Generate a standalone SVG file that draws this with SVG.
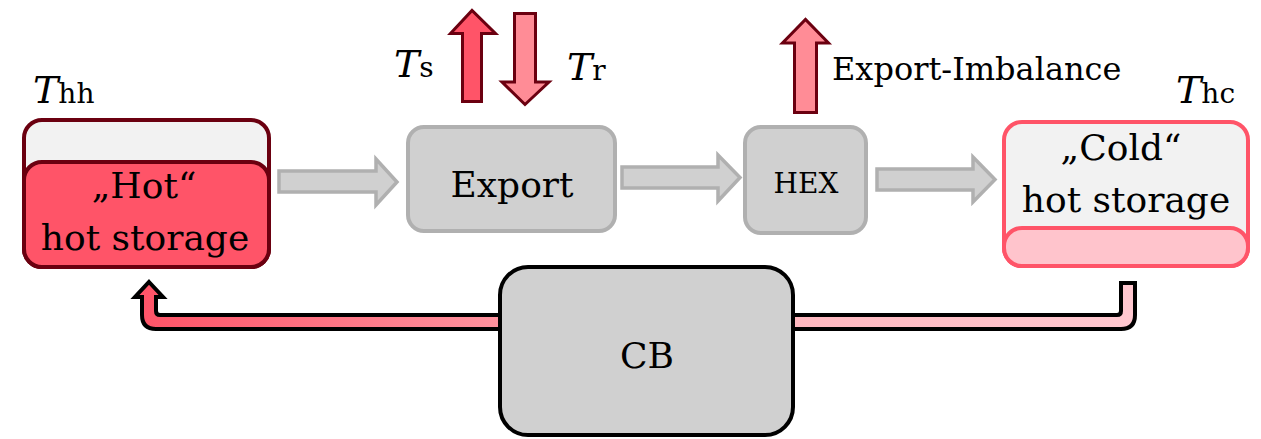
<svg xmlns="http://www.w3.org/2000/svg" width="1261" height="439" viewBox="0 0 1261 439">
<style>
text{font-family:"DejaVu Serif","Liberation Serif",serif;fill:#000}
.lbl{font-size:36px;text-anchor:middle}
.gbox{fill:#d0d0d0;stroke:#b0b0b0;stroke-width:4}
.garrow{fill:#d0d0d0;stroke:#b0b0b0;stroke-width:3.5;stroke-linejoin:miter}
.rarrow{stroke:#6b0010;stroke-width:3;stroke-linejoin:miter}
.it{font-style:italic;font-size:38px}
.sub{font-size:28px}
</style>
<defs>
<linearGradient id="flow" gradientUnits="userSpaceOnUse" x1="142" y1="0" x2="1135" y2="0">
<stop offset="0" stop-color="#ff5468"/>
<stop offset="0.37" stop-color="#ff94a0"/>
<stop offset="0.66" stop-color="#ffb8c0"/>
<stop offset="1" stop-color="#ffc8d0"/>
</linearGradient>
</defs>
<g id="connectors">
<path d="M149,282 L163,297 L156,297 L156,311 Q156,315 160,315 L1117,315 Q1121,315 1121,311 L1121,283 L1135,283 L1135,315 Q1135,329 1121,329 L156,329 Q142,329 142,315 L142,297 L135,297 Z" fill="url(#flow)" stroke="#000" stroke-width="4"/>
<polygon class="garrow" points="279,171 376,171 376,159 397,182 376,205 376,192 279,192"/>
<polygon class="garrow" points="622,167 718,167 718,155 740,177.5 718,201 718,188 622,188"/>
<polygon class="garrow" points="877,169 973,169 973,157 995,179.5 973,202 973,190 877,190"/>
<polygon class="rarrow" fill="#ff5468" points="462.5,101.5 481.5,101.5 481.5,33.5 495.5,33.5 472,10.5 450.5,33.5 462.5,33.5"/>
<polygon class="rarrow" fill="#ff8c96" points="514.5,13.5 535.5,13.5 535.5,82 549,82 525,104.5 502,82 514.5,82"/>
<polygon class="rarrow" fill="#ff8c96" points="794.5,112.5 816.5,112.5 816.5,43 828.5,43 805.5,19.5 782.5,43 794.5,43"/>
</g>
<g id="hot-storage">
<rect x="24" y="120" width="245" height="147" rx="18" fill="#f2f2f2" stroke="#6b0010" stroke-width="4"/>
<rect x="24" y="162" width="245" height="105" rx="18" fill="#ff5468" stroke="#6b0010" stroke-width="4"/>
<text class="lbl" x="144" y="198">„Hot“</text>
<text class="lbl" x="145" y="250">hot storage</text>
</g>
<g id="export">
<rect class="gbox" x="408" y="127" width="207" height="104" rx="16"/>
<text class="lbl" x="512" y="197">Export</text>
</g>
<g id="hex">
<rect class="gbox" x="745" y="127" width="121" height="106" rx="16"/>
<text x="806" y="193" font-size="28" text-anchor="middle">HEX</text>
</g>
<g id="cold-storage">
<rect x="1004" y="122" width="244" height="144" rx="18" fill="#f2f2f2" stroke="#ff5468" stroke-width="4"/>
<rect x="1004" y="228" width="244" height="38" rx="18" fill="#ffc4cc" stroke="#ff5468" stroke-width="4"/>
<text class="lbl" x="1121" y="160">„Cold“</text>
<text class="lbl" x="1126" y="212">hot storage</text>
</g>
<g id="cb">
<rect x="500" y="267" width="293" height="168" rx="28" fill="#d0d0d0" stroke="#000" stroke-width="4"/>
<text class="lbl" x="647" y="368">CB</text>
</g>
<g id="labels">
<text x="33" y="103"><tspan class="it">T</tspan><tspan class="sub">hh</tspan></text>
<text x="394" y="77"><tspan class="it">T</tspan><tspan class="sub">s</tspan></text>
<text x="567" y="80"><tspan class="it">T</tspan><tspan class="sub">r</tspan></text>
<text x="1176" y="103"><tspan class="it">T</tspan><tspan class="sub">hc</tspan></text>
<text x="832" y="80" font-size="32">Export-Imbalance</text>
</g>
</svg>
